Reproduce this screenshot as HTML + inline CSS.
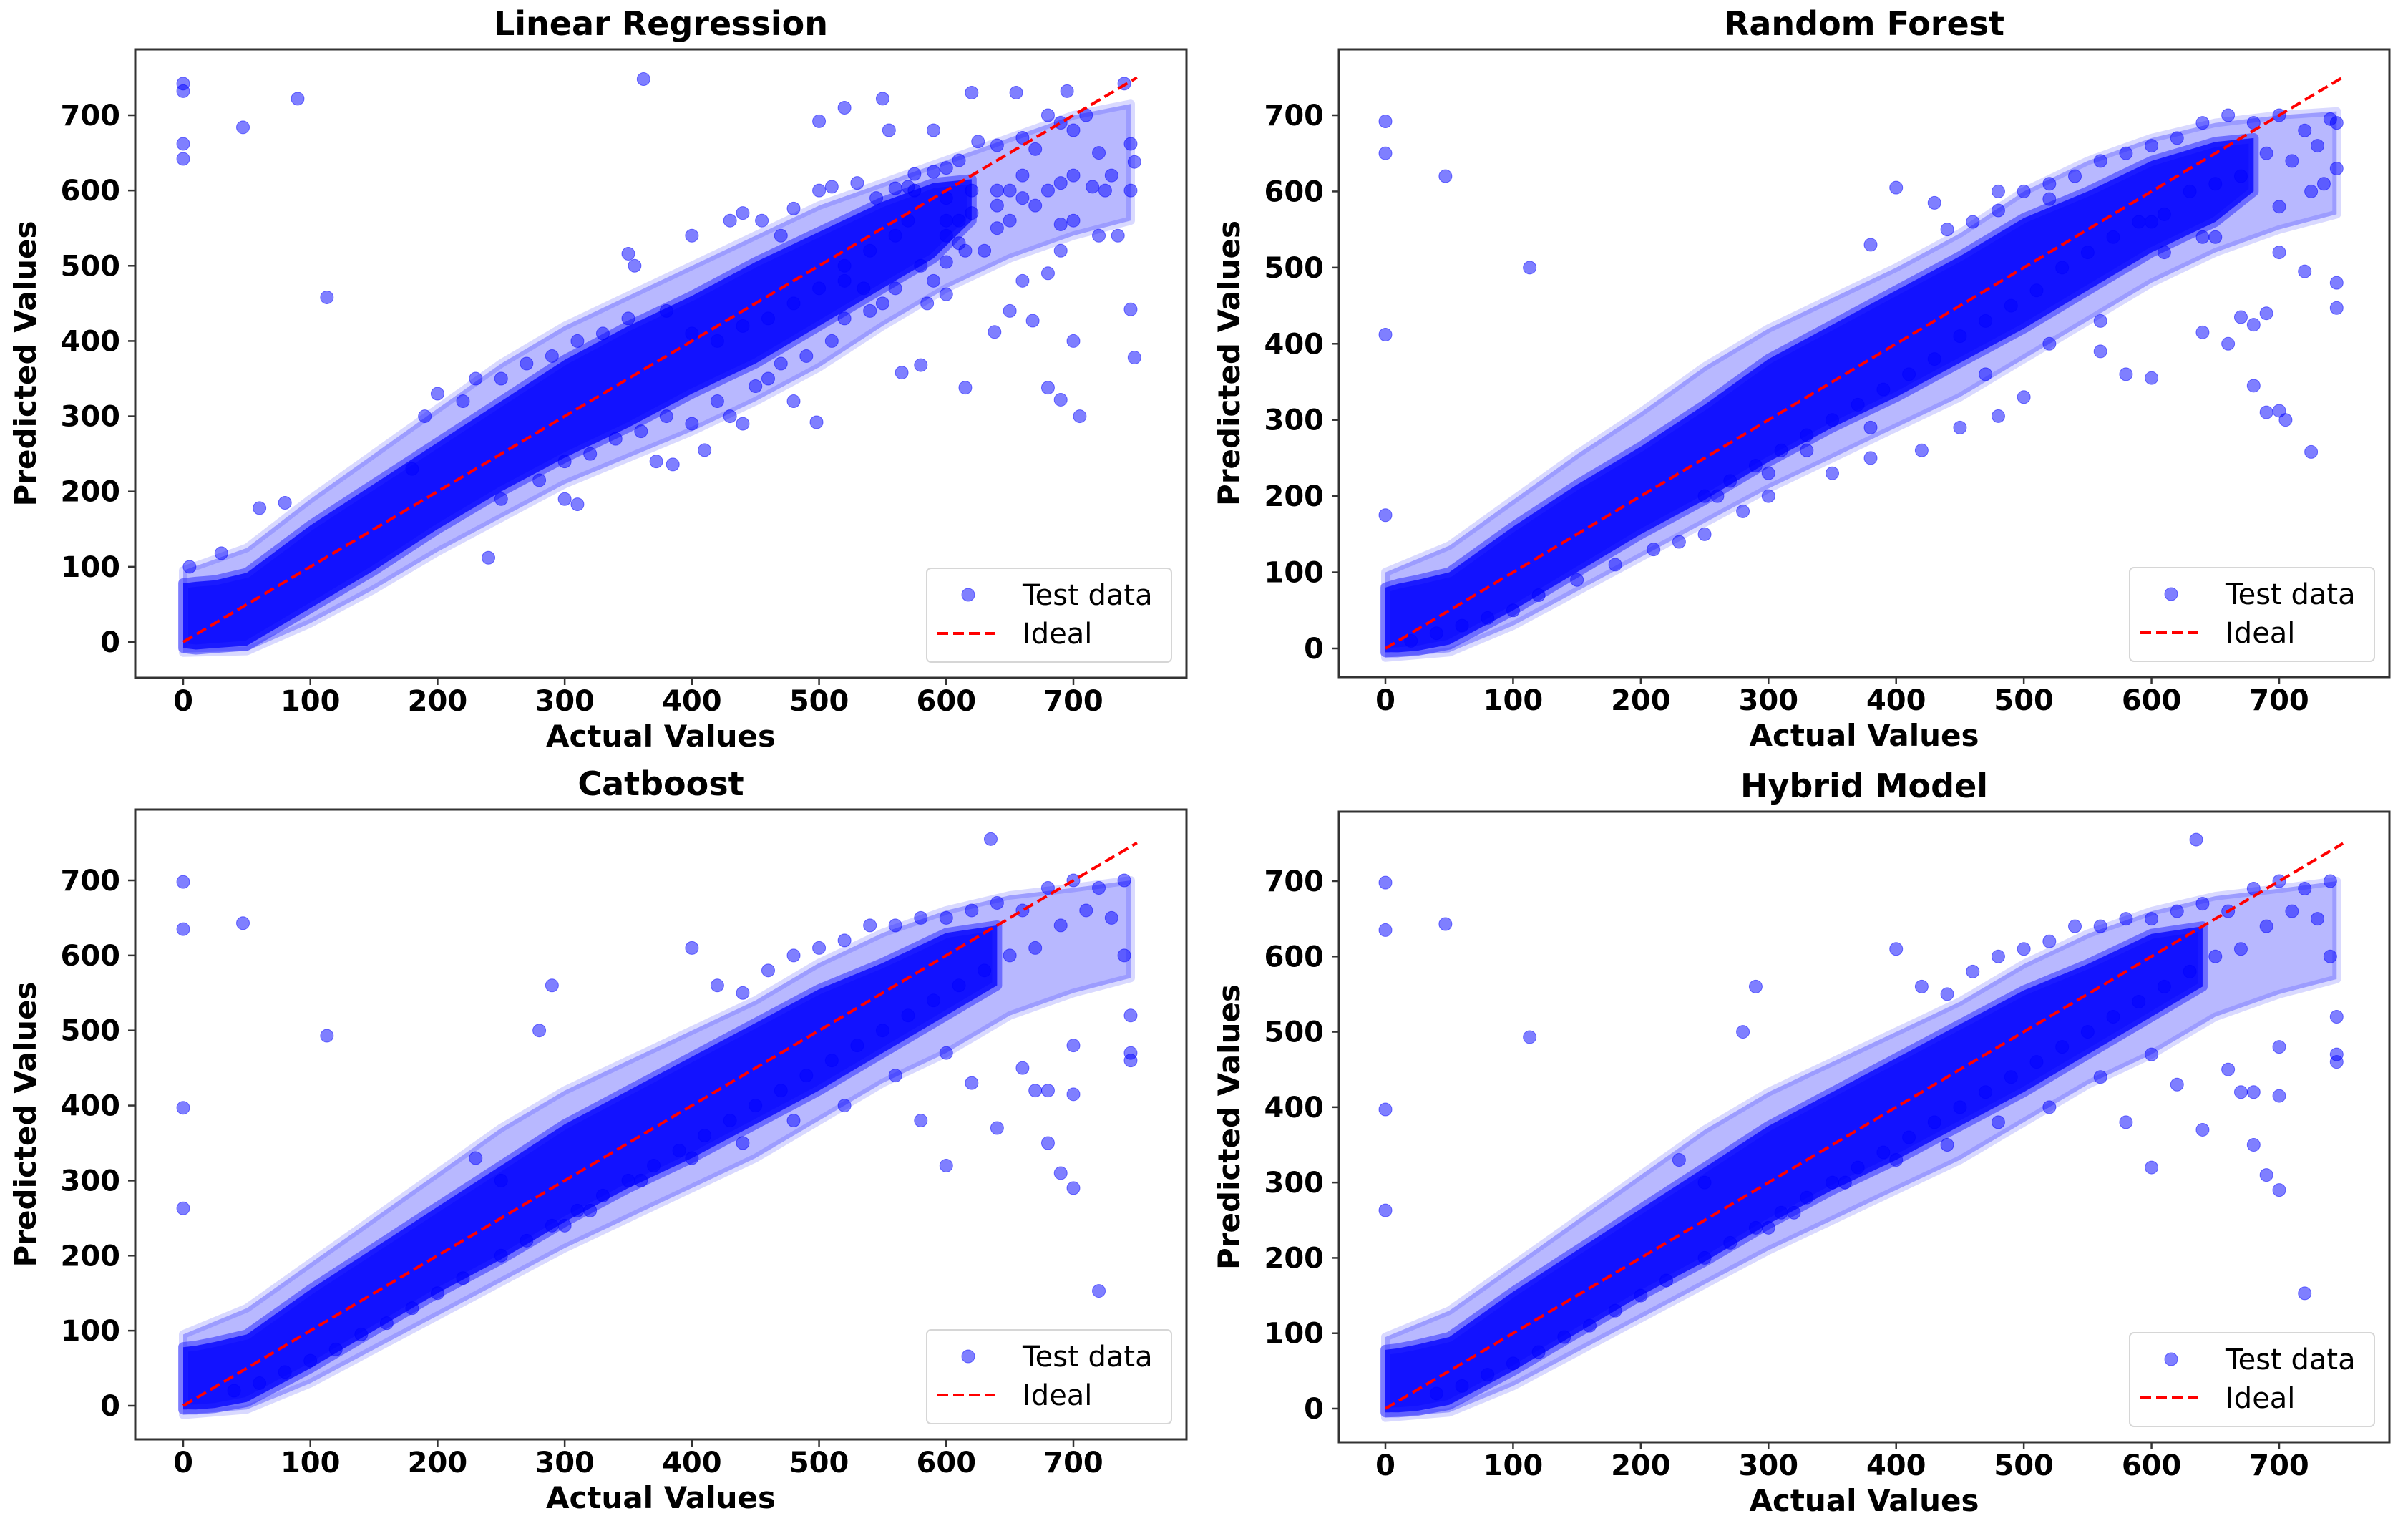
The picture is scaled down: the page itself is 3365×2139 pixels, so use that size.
<!DOCTYPE html>
<html><head><meta charset="utf-8"><style>
html,body{margin:0;padding:0;background:#fff;}
svg{display:block;font-family:"DejaVu Sans","Liberation Sans",sans-serif;}
</style></head>
<body>
<svg id="fig" width="3365" height="2139" viewBox="0 0 3365 2139" xmlns="http://www.w3.org/2000/svg"></svg>
<script>
// ---------- data ----------
const xTickValues = [0,100,200,300,400,500,600,700];
const yTickValues = [0,100,200,300,400,500,600,700];
const panelTitles = ["Linear Regression","Random Forest","Catboost","Hybrid Model"];

// dense core band (actual x, lower/upper predicted)
const lrBandX    = [0,10,25,50,100,150,200,250,300,350,400,450,500,550,590,620];
const lrBandLow  = [-8,-10,-8,-5,45,95,150,200,245,285,330,370,420,470,510,560];
const lrBandHigh = [78,80,82,92,155,210,265,320,375,420,460,505,545,585,610,615];
// sparser halo band
const lrHaloX    = [0,50,100,150,200,250,300,350,400,450,500,550,600,650,700,745];
const lrHaloLow  = [-14,-12,25,70,120,165,210,245,280,320,365,420,470,510,540,560];
const lrHaloHigh = [95,125,190,250,310,370,420,460,500,540,580,610,640,670,700,715];

const rfBandX    = [0,10,25,50,100,150,200,250,300,350,400,450,500,550,600,650,680];
const rfBandLow  = [-5,-5,-3,5,50,100,150,195,245,290,330,375,420,470,520,560,600];
const rfBandHigh = [80,85,90,100,160,215,265,320,380,425,470,515,565,600,640,665,670];
const rfHaloX    = [0,50,100,150,200,250,300,350,400,450,500,550,600,650,700,745];
const rfHaloLow  = [-12,-5,30,75,120,165,210,250,290,330,380,430,480,520,550,570];
const rfHaloHigh = [100,135,195,255,310,370,420,460,500,545,600,640,670,690,700,705];

const cbBandX    = [0,10,25,50,100,150,200,250,300,350,400,450,500,550,600,640];
const cbBandLow  = [-5,-5,-3,5,50,100,150,195,245,290,330,375,420,470,520,560];
const cbBandHigh = [78,80,85,95,155,210,265,320,375,420,465,510,555,590,630,640];
const cbHaloX    = [0,50,100,150,200,250,300,350,400,450,500,550,600,650,700,745];
const cbHaloLow  = [-12,-5,30,75,120,165,210,250,290,330,380,430,470,520,550,570];
const cbHaloHigh = [95,130,190,250,310,370,420,460,500,540,590,630,660,680,690,700];

// scattered test points
const lrActual = [0,0,0,0,47,90,113,362,500,520,550,555,590,620,655,695,740,745,748,745,748,705,680,690,615,638,650,668,600,580,565,498,480,385,372,410,440,300,310,240,180,250,200,230,190,60,80,5,30,350,355,400,440,430,480,500,510,530,545,560,570,575,590,600,610,625,640,660,670,680,690,700,710,720,730,700,690,680,660,650,640,620,630,610,600,590,580,560,550,540,520,510,490,470,460,450,430,420,400,380,360,340,320,300,280,620,640,660,700,720,690,670,610,600,570,560,540,520,500,480,460,440,420,400,380,350,330,310,290,270,250,220,650,715,735,725,745,600,640,660,680,700,690,455,470,520,535,585,600,575,615];
const lrPred   = [742,732,662,642,684,722,458,748,692,710,722,680,680,730,730,732,742,662,638,442,378,300,338,322,338,412,440,427,462,368,358,292,320,236,240,255,290,190,183,112,230,190,330,350,300,178,185,100,118,516,500,540,570,560,576,600,605,610,590,603,605,622,625,630,640,665,660,670,655,700,690,680,700,650,620,620,610,600,590,560,550,570,520,530,505,480,500,470,450,440,430,400,380,370,350,340,300,320,290,300,280,270,250,240,215,600,600,620,560,540,555,580,560,590,560,540,520,500,470,450,430,420,400,410,440,430,410,400,380,370,350,320,600,605,540,600,600,560,580,480,490,400,520,560,540,480,470,450,540,600,520];

const rfActual = [0,0,0,0,47,113,725,705,700,690,680,720,745,745,660,670,690,680,640,600,580,560,500,480,450,420,380,350,300,280,250,230,210,180,150,120,100,80,60,40,20,400,430,460,480,500,520,540,560,580,600,620,640,660,680,700,720,740,745,730,710,690,670,650,630,610,590,570,550,530,510,490,470,450,430,410,390,370,350,330,310,290,270,250,610,650,700,560,520,470,380,330,300,260,380,440,480,520,600,640,700,735,745,725];
const rfPred   = [692,650,412,175,620,500,258,300,312,310,345,495,480,447,400,435,440,425,415,355,360,390,330,305,290,260,250,230,200,180,150,140,130,110,90,70,50,40,30,20,10,605,585,560,575,600,610,620,640,650,660,670,690,700,690,700,680,695,690,660,640,650,620,610,600,570,560,540,520,500,470,450,430,410,380,360,340,320,300,280,260,240,220,200,520,540,580,430,400,360,290,260,230,200,530,550,600,590,560,540,520,610,630,600];

const cbActual = [0,0,0,0,47,113,635,720,700,690,680,700,670,680,745,745,745,640,600,580,290,280,250,230,400,420,440,460,480,500,520,540,560,580,600,620,640,660,680,700,720,740,730,710,690,670,650,630,610,590,570,550,530,510,490,470,450,430,410,390,370,350,330,310,290,270,250,220,200,180,160,140,120,100,80,60,40,600,560,520,480,440,400,360,320,300,620,660,700,740];
const cbPred   = [698,635,397,263,643,493,755,153,290,310,350,415,420,420,520,470,460,370,320,380,560,500,300,330,610,560,550,580,600,610,620,640,640,650,650,660,670,660,690,700,690,700,650,660,640,610,600,580,560,540,520,500,480,460,440,420,400,380,360,340,320,300,280,260,240,220,200,170,150,130,110,95,75,60,45,30,20,470,440,400,380,350,330,300,260,240,430,450,480,600];

const hyActual = cbActual.slice();
const hyPred   = cbPred.slice();

const modelBandX    = [lrBandX, rfBandX, cbBandX, cbBandX];
const modelBandLow  = [lrBandLow, rfBandLow, cbBandLow, cbBandLow];
const modelBandHigh = [lrBandHigh, rfBandHigh, cbBandHigh, cbBandHigh];
const modelHaloX    = [lrHaloX, rfHaloX, cbHaloX, cbHaloX];
const modelHaloLow  = [lrHaloLow, rfHaloLow, cbHaloLow, cbHaloLow];
const modelHaloHigh = [lrHaloHigh, rfHaloHigh, cbHaloHigh, cbHaloHigh];
const modelActual   = [lrActual, rfActual, cbActual, hyActual];
const modelPred     = [lrPred, rfPred, cbPred, hyPred];

// ---------- layout ----------
const panels = [
  {L:189,R:1658,T:69,B:947, x0:256, x1:1500, y0:897, y7:161},
  {L:1871,R:3339,T:69,B:946, x0:1936, x1:3185, y0:906, y7:161},
  {L:189,R:1658,T:1131,B:2011, x0:256, x1:1500, y0:1964, y7:1230},
  {L:1871,R:3339,T:1134,B:2015, x0:1936, x1:3185, y0:1968, y7:1231}
];
const NS = "http://www.w3.org/2000/svg";
const svg = document.getElementById('fig');
function mk(tag, attrs, parent){
  const e = document.createElementNS(NS, tag);
  for (const k in attrs) e.setAttribute(k, attrs[k]);
  (parent||svg).appendChild(e);
  return e;
}

panels.forEach((p, i) => {
  const sx = v => p.x0 + (v) * (p.x1 - p.x0) / 700;
  const sy = v => p.y0 - (v) * (p.y0 - p.y7) / 700;
  const g = mk('g', {});
  
  

  const cx = (p.L + p.R) / 2;
  const title = mk('text', {x:cx, y:p.T-20, 'text-anchor':'middle', 'font-size':46, 'font-weight':'bold', fill:'#000'}, g);
  title.textContent = panelTitles[i];
  
  

  const clip = mk('clipPath', {id:'clip'+i}, g);
  mk('rect', {x:p.L, y:p.T, width:p.R-p.L, height:p.B-p.T}, clip);
  const plot = mk('g', {'clip-path':'url(#clip'+i+')'}, g);
  
  

  function bandPoly(bx, bl, bh){
    let pts = [];
    for (let k=0;k<bx.length;k++) pts.push(sx(bx[k])+','+sy(bh[k]));
    for (let k=bx.length-1;k>=0;k--) pts.push(sx(bx[k])+','+sy(bl[k]));
    return pts.join(' ');
  }
  const halo = mk('polygon', {points:bandPoly(modelHaloX[i], modelHaloLow[i], modelHaloHigh[i]), fill:'#0000ff', 'fill-opacity':0.28, stroke:'#0000ff', 'stroke-width':12, 'stroke-linejoin':'round', 'stroke-opacity':0.15}, plot);
  
  
  const band = mk('polygon', {points:bandPoly(modelBandX[i], modelBandLow[i], modelBandHigh[i]), fill:'#0000ff', 'fill-opacity':0.9, stroke:'#2222ff', 'stroke-width':14, 'stroke-linejoin':'round', 'stroke-opacity':0.5}, plot);
  
  

  const xa = modelActual[i], ya = modelPred[i];
  for (let k=0;k<xa.length;k++){
    const c = mk('circle', {cx:sx(xa[k]), cy:sy(ya[k]), r:9, fill:'#0000ff', 'fill-opacity':0.5, stroke:'#0000ff', 'stroke-opacity':0.5, 'stroke-width':1}, plot);
    
    
  }
  const ideal = mk('line', {x1:sx(0), y1:sy(0), x2:sx(750), y2:sy(750), stroke:'#ff0000', 'stroke-width':4, 'stroke-dasharray':'15,7'}, plot);
  
  

  const frame = mk('rect', {x:p.L, y:p.T, width:p.R-p.L, height:p.B-p.T, fill:'none', stroke:'#333', 'stroke-width':3}, g);
  
  

  xTickValues.forEach(v => {
    const X = sx(v);
    const t = mk('line', {x1:X, y1:p.B, x2:X, y2:p.B+10, stroke:'#333', 'stroke-width':2.5}, g);
    
    
    const lb = mk('text', {x:X, y:p.B+46, 'text-anchor':'middle', 'font-size':40, 'font-weight':'bold'}, g);
    lb.textContent = v;
    
    
  });
  yTickValues.forEach(v => {
    const Y = sy(v);
    const t = mk('line', {x1:p.L-10, y1:Y, x2:p.L, y2:Y, stroke:'#333', 'stroke-width':2.5}, g);
    
    
    const lb = mk('text', {x:p.L-21, y:Y+14, 'text-anchor':'end', 'font-size':40, 'font-weight':'bold'}, g);
    lb.textContent = v;
    
    
  });
  const xl = mk('text', {x:cx, y:p.B+96, 'text-anchor':'middle', 'font-size':42, 'font-weight':'bold'}, g);
  xl.textContent = 'Actual Values';
  
  
  const ymid = (p.T + p.B) / 2, ylx = p.L - 139;
  const yl = mk('text', {x:ylx, y:ymid, 'text-anchor':'middle', 'font-size':42, 'font-weight':'bold', transform:'rotate(-90 '+ylx+' '+ymid+')'}, g);
  yl.textContent = 'Predicted Values';
  
  

  // legend
  const lg = mk('g', {}, g);
  
  
  const lx = p.R - 363, ly = p.B - 153;
  mk('rect', {x:lx, y:ly, width:342, height:131, rx:6, fill:'#fff', 'fill-opacity':0.85, stroke:'#d6d6d6', 'stroke-width':2}, lg);
  const lm = mk('circle', {cx:lx+58, cy:ly+37, r:9, fill:'#0000ff', 'fill-opacity':0.5, stroke:'#0000ff', 'stroke-opacity':0.5}, lg);
  
  
  const lt1 = mk('text', {x:lx+134, y:ly+51, 'font-size':40}, lg);
  lt1.textContent = 'Test data';
  
  
  const ll = mk('line', {x1:lx+15, y1:ly+91, x2:lx+95, y2:ly+91, stroke:'#ff0000', 'stroke-width':4, 'stroke-dasharray':'15,7'}, lg);
  
  
  const lt2 = mk('text', {x:lx+134, y:ly+105, 'font-size':40}, lg);
  lt2.textContent = 'Ideal';
  
  
});
</script>
</body></html>
